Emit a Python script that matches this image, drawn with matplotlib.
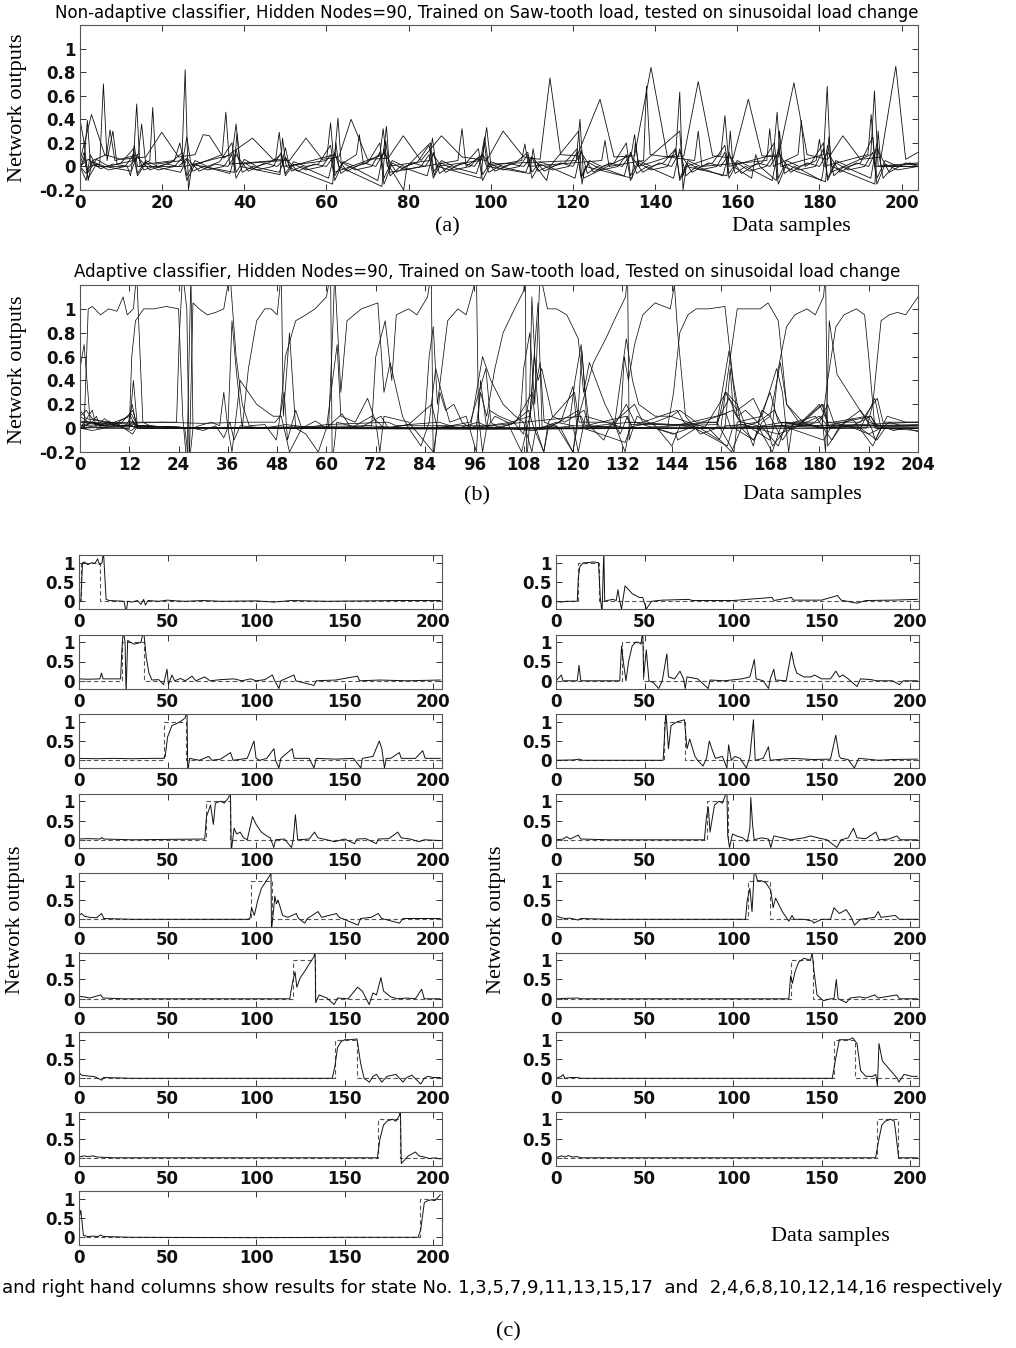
import matplotlib
matplotlib.use("Agg")
import matplotlib.pyplot as plt

plt.rcParams.update({
    "font.family": "DejaVu Sans", "font.size": 11,
    "figure.facecolor": "white", "axes.facecolor": "white",
})
W, H = 1016, 1348
SERIF = "Liberation Serif"
INK = "#111111"

# ---------------- panel (a): non-adaptive classifier outputs ----------------
A_TITLE = ("Non-adaptive classifier, Hidden Nodes=90, Trained on Saw-tooth load, "
           "tested on sinusoidal load change")
A_XTICKS = [0, 20, 40, 60, 80, 100, 120, 140, 160, 180, 200]
A_YTICKS = [-0.2, 0, 0.2, 0.4, 0.6, 0.8, 1]

A_BROAD = [(0, .05), (2.8, .44), (6, .1), (10, .06), (16, .08), (19.9, .29), (24, .08),
           (28, .1), (30, .27), (31.5, .26), (35, .07), (42, .24), (47, .06), (51, .05),
           (55, .24), (59, .06), (63, .08), (66, .40), (70, .06), (75, .07), (78.7, .26),
           (83, .05), (88, .26), (93, .08), (99, .05), (103, .30), (108, .08), (112, .06),
           (114.4, .75), (117, .10), (121, .09), (126.6, .57), (130, .08), (135, .09),
           (139, .84), (143, .08), (147, .09), (150.5, .72), (154, .09), (159, .07),
           (162.7, .57), (166, .09), (170, .08), (173.8, .71), (177, .10), (182, .06),
           (185.7, .26), (190, .06), (195, .08), (198.6, .85), (201, .06), (204, .12)]
A_SPIKES = [(0, 0), (1, .05), (1.8, .39), (2.6, 0), (4.8, .02), (5.7, .70), (6.6, .05),
            (8, .3), (9, .02), (13, .05), (13.8, .53), (14.6, 0), (17, .05), (17.7, .50),
            (18.5, .02), (24.8, .05), (25.6, .82), (26.4, -.2), (27.2, 0), (34.6, .1),
            (35.5, .46), (36.4, .02), (47.6, .05), (48.5, .29), (49.4, 0), (60, .05),
            (61, .37), (62, -.05), (73.8, .1), (74.6, .34), (75.4, -.05), (92, .05),
            (93, .32), (94, 0), (98, .1), (99, .33), (100, .02), (120.8, .05), (121.7, .40),
            (122.6, -.1), (134.2, .1), (135, .27), (136, 0), (145, .1), (146, .63),
            (146.8, -.2), (147.6, 0), (156, .1), (157, .43), (158, 0), (168.8, .1),
            (169.7, .46), (170.6, 0), (181, .1), (181.9, .68), (182.8, -.05), (192.5, .1),
            (193.4, .64), (194.3, 0), (204, .02)]
A_MEDIUM = [(0, .40), (1, .2), (2, -.12), (3, .05), (6.5, .1), (7.3, .31), (8.5, .05),
            (14.2, .1), (15, .36), (16, .02), (23, .05), (24.3, .2), (25.5, 0), (37, .1),
            (38, .36), (39, .02), (49.3, .05), (50, .16), (51, 0), (62, .1), (62.8, .41),
            (63.6, .02), (67.3, .1), (68, .27), (69, .02), (73, .1), (73.8, .32), (74.8, 0),
            (85, .05), (85.8, .24), (86.7, 0), (97.5, .05), (98.5, .25), (99.5, 0),
            (107.5, .05), (108.3, .19), (109.2, 0), (127, .05), (127.8, .22), (128.8, 0),
            (137.2, .05), (137.9, .68), (138.8, .1), (149.6, .05), (150.5, .30), (151.4, 0),
            (167.2, .05), (167.9, .32), (168.8, 0), (174.8, .1), (175.6, .39), (176.5, 0),
            (179.2, .05), (180, .23), (181, 0), (191.8, .1), (192.6, .44), (193.5, 0),
            (204, .03)]
A_DIPS = [(0, 0), (1.5, -.12), (2.5, .1), (4, 0), (11.5, 0), (12.3, -.08), (13.2, .18),
          (14, 0), (24.8, 0), (26, .25), (27, .02), (37.5, -.05), (38.2, .28), (39, 0),
          (48.7, -.07), (49.3, .24), (50.2, 0), (61.5, -.15), (62.3, .2), (63, 0),
          (73.5, -.17), (74.4, .22), (75.3, 0), (78.8, -.2), (79.6, 0), (85.3, .2),
          (86.2, -.08), (87, 0), (97.6, -.1), (98.4, .2), (99.2, 0), (109.5, -.06),
          (110.3, .15), (111, 0), (113.6, -.12), (114.4, 0), (121.4, .3), (122.2, -.15),
          (123, 0), (134.4, -.1), (135.2, .2), (136, 0), (146, .3), (146.8, -.08),
          (147.6, 0), (157.5, -.08), (158.3, .3), (159, 0), (163.5, -.1), (164.5, .1),
          (165.5, 0), (169.5, -.12), (170.3, .3), (171, 0), (181.5, -.13), (182.3, .25),
          (183, 0), (193.5, -.15), (194.3, .3), (195, 0), (204, 0)]
A_BAND1 = [(0, .02), (1, .12), (2, -.05), (4, .06), (7, 0), (10, .03), (13, .15), (14, -.06),
           (16, .05), (19, 0), (22, .03), (25, .12), (26, -.08), (28, .05), (31, 0), (34, .04),
           (37, .2), (38, -.05), (40, .06), (43, 0), (46, .03), (49, .1), (50, -.06), (52, .04),
           (55, 0), (58, .02), (61, .18), (62, -.08), (64, .04), (67, 0), (70, .03), (73, .2),
           (74, -.1), (76, .05), (79, 0), (82, .03), (85, .18), (86, -.05), (88, .05), (91, 0),
           (94, .03), (97, .15), (98, -.07), (100, .04), (103, 0), (106, .03), (109, .12),
           (110, -.05), (112, .04), (115, 0), (118, .03), (121, .15), (122, -.1), (124, .05),
           (127, 0), (130, .03), (133, .2), (134, -.08), (136, .05), (139, 0), (142, .03),
           (145, .15), (146, -.1), (148, .05), (151, 0), (154, .03), (157, .18), (158, -.06),
           (160, .05), (163, 0), (166, .03), (169, .2), (170, -.1), (172, .05), (175, 0),
           (178, .03), (181, .2), (182, -.1), (184, .05), (187, 0), (190, .03), (193, .25),
           (194, -.1), (196, .05), (199, 0), (202, .03), (204, .01)]
A_BAND2 = [(0, -.02), (1, .08), (2, -.1), (4, .02), (7, -.03), (11, 0), (13, .1), (14, -.08),
           (16, .03), (19, -.03), (23, 0), (25, .08), (26, -.12), (28, .02), (31, -.03),
           (35, 0), (37, .1), (38, -.1), (40, .03), (43, -.03), (47, 0), (49, .12), (50, -.08),
           (52, .02), (55, -.03), (59, 0), (61, .1), (62, -.12), (64, .03), (67, -.03), (71, 0),
           (73, .12), (74, -.15), (76, .03), (79, -.03), (83, 0), (85, .1), (86, -.1), (88, .03),
           (91, -.03), (95, 0), (97, .08), (98, -.12), (100, .02), (103, -.03), (107, 0),
           (109, .1), (110, -.1), (112, .02), (115, -.03), (119, 0), (121, .12), (122, -.08),
           (124, .03), (127, -.03), (131, 0), (133, .1), (134, -.12), (136, .03), (139, -.03),
           (143, 0), (145, .15), (146, -.12), (148, .03), (151, -.03), (155, 0), (157, .12),
           (158, -.1), (160, .03), (163, -.04), (167, 0), (169, .1), (170, -.15), (172, .02),
           (175, -.03), (179, 0), (181, .15), (182, -.12), (184, .03), (187, -.03), (191, 0),
           (193, .12), (194, -.15), (196, .02), (199, -.03), (204, 0)]
A_BAND3 = [(0, 0), (2, .06), (5, -.02), (8, .02), (12, 0), (14, .08), (17, -.03), (21, .02),
           (24, 0), (26, .07), (29, -.04), (33, .02), (36, 0), (38, .1), (41, -.04), (45, .03),
           (48, 0), (50, .07), (53, -.04), (57, .02), (60, 0), (62, .1), (65, -.04), (69, .03),
           (72, 0), (74, .12), (77, -.05), (81, .03), (84, 0), (86, .1), (89, -.05), (93, .03),
           (96, 0), (98, .1), (101, -.04), (105, .02), (108, 0), (110, .08), (113, -.04),
           (117, .03), (120, 0), (122, .12), (125, -.05), (129, .03), (132, 0), (134, .1),
           (137, -.05), (141, .03), (144, 0), (146, .12), (149, -.05), (153, .03), (156, 0),
           (158, .1), (161, -.06), (165, .03), (168, 0), (170, .12), (173, -.05), (177, .03),
           (180, 0), (182, .12), (185, -.05), (189, .03), (192, 0), (194, .15), (197, -.05),
           (201, .03), (204, 0)]
A_BAND4 = [(0, 0), (1.5, -.06), (3, .04), (6, 0), (12.5, -.04), (14, .1), (15.5, -.03), (18, 0),
           (24.5, -.05), (26, .06), (27.5, -.04), (30, 0), (36.5, -.06), (38, .14), (39.5, -.05),
           (42, 0), (48.5, -.05), (50, .08), (51.5, -.04), (54, 0), (60.5, -.1), (62, .12),
           (63.5, -.06), (66, 0), (72.5, -.12), (74, .15), (75.5, -.08), (78, 0), (84.5, -.08),
           (86, .12), (87.5, -.06), (90, 0), (96.5, -.06), (98, .1), (99.5, -.05), (102, 0),
           (108.5, -.05), (110, .08), (111.5, -.04), (114, 0), (120.5, -.1), (122, .14),
           (123.5, -.06), (126, 0), (132.5, -.08), (134, .12), (135.5, -.06), (138, 0),
           (144.5, -.1), (146, .15), (147.5, -.08), (150, 0), (156.5, -.08), (158, .12),
           (159.5, -.06), (162, 0), (168.5, -.12), (170, .15), (171.5, -.06), (174, 0),
           (180.5, -.12), (182, .18), (183.5, -.08), (186, 0), (192.5, -.1), (194, .2),
           (195.5, -.1), (198, 0), (204, 0)]
A_TRACES = [A_BROAD, A_SPIKES, A_MEDIUM, A_DIPS, A_BAND1, A_BAND2, A_BAND3, A_BAND4]

# ---------------- panels (b) and (c): adaptive classifier, 17 state outputs ----------------
B_TITLE = ("Adaptive classifier, Hidden Nodes=90, Trained on Saw-tooth load, "
           "Tested on sinusoidal load change")
B_XTICKS = list(range(0, 205, 12))
C_XTICKS = [0, 50, 100, 150, 200]
C_YTICKS = [0, 0.5, 1]

OUT_1 = [(0, 0), (1, 0), (2, 1.0), (3, 1.02), (5, .95), (7, 1.0), (9, .98), (10.5, 1.1),
         (11.5, .95), (13, 1.0), (13.8, 1.3), (15.3, .05), (17, .02), (25.5, 0), (26.6, -.3),
         (27.5, 0), (30, -.02), (33, .02), (35, -.08), (36.5, .05), (37.5, -.1), (39, .02),
         (45, 0), (50, .03), (55, .01), (60, 0), (70, .02), (80, 0), (100, .01), (110, -.02),
         (120, .02), (140, 0), (160, .01), (180, .02), (204, .02)]
OUT_2 = [(0, 0), (3, -.02), (6, 0), (12, 0), (12.6, .6), (13.5, .9), (15.5, 1.0), (18, 1.0),
         (21, 1.02), (24, 1.0), (25, .1), (26, -.3), (27, 1.3), (27.5, 0), (29, .02), (32, .05),
         (34, .02), (35, .3), (36, 0), (37, -.2), (38, .1), (39, .4), (41, .3), (43, .2),
         (47, .1), (49, .1), (51, -.2), (54, 0), (60, .03), (75, .05), (77, .02), (100, .02),
         (122, .1), (123, .02), (133, .1), (134, .03), (150, .03), (159, .15), (161, .03),
         (170, -.05), (175, .02), (190, .03), (204, .05)]
OUT_3 = [(0, .05), (5, .04), (11.8, .05), (12.7, .2), (13.6, .05), (23.5, .05), (24.2, .8),
         (25, 1.3), (26, 1.0), (26.6, -.3), (27.5, 1.05), (29, 1.0), (31, .95), (33, .97),
         (35, 1.0), (36.5, 1.3), (38, .6), (39.5, .2), (41.2, .02), (45, .03), (47.8, -.1),
         (48.7, .1), (49.7, .3), (50.5, -.1), (52.5, .15), (54, 0), (57.3, .06), (60, 0),
         (63.8, .12), (66, 0), (71, .1), (74, 0), (80, .03), (87.4, .05), (92, 0), (96.9, .05),
         (100, 0), (105, .03), (109.2, .15), (110.5, 0), (112.9, -.2), (114, 0), (121.4, .15),
         (122.5, 0), (132.7, -.12), (134, 0), (145, .02), (157.3, .12), (158.5, 0), (170, .02),
         (185, 0), (204, .02)]
OUT_4 = [(0, 0), (3, .15), (4, 0), (12, 0), (13, .4), (14, 0), (30, 0), (36, 0), (37, .9),
         (38, .5), (39.5, 0), (41, .5), (43, .9), (45, 1.0), (46.5, 1.0), (48, .95), (49, 1.3),
         (49.5, .1), (51, .8), (52.5, 0), (55, -.05), (58, -.2), (60, 0), (62.6, .7),
         (63.5, .1), (67, .05), (70, .25), (72, .05), (73, -.2), (74, .1), (80, .05),
         (86, -.2), (87, .02), (95, 0), (105, .05), (109.5, .1), (112, .55), (113, .05),
         (117, 0), (120, -.2), (121, .05), (123, .3), (124, .02), (130, 0), (133, .75),
         (134.5, .4), (136, .2), (140, .1), (144, .1), (146, .15), (150, .05), (155, .05),
         (158, .25), (160, .1), (162, .15), (165, .05), (170, -.15), (172, .05), (178, .03),
         (181, 0), (190, 0), (194, -.1), (196, 0), (204, 0)]
OUT_5 = [(0, .05), (10, .04), (20, .05), (30, .04), (40, .05), (47.5, .05), (48.7, .1),
         (50, .6), (52.5, .9), (55, .95), (57.2, 1.0), (60, 1.1), (61, 1.3), (61.4, -.3),
         (62.5, .05), (68, 0), (73.3, .1), (75, 0), (80, .03), (85.6, .2), (87, 0), (95, .05),
         (98.8, .5), (100, .05), (102, 0), (106, .05), (110.1, .3), (111, 0), (112.9, -.2),
         (114, .05), (120.4, .3), (121.5, .05), (130, .05), (132.7, -.2), (134, .05),
         (145, .03), (155, .05), (159.2, -.2), (160, .05), (166, .1), (169.6, .5), (171, .3),
         (172.5, -.2), (173.5, .05), (176, .05), (180.9, .2), (182, .05), (190, .05),
         (194.1, .25), (195.5, .05), (204, .05)]
OUT_6 = [(0, 0), (10, .01), (13, .03), (15, 0), (40, 0), (60.5, 0), (61.5, .8), (62, 1.3),
         (63.5, .3), (65, .9), (68.5, 1.0), (72.5, 1.05), (74, .3), (75.5, .55), (78.5, .1),
         (80, 0), (83, -.15), (85, .05), (86.6, .5), (88, .3), (90, .05), (94, .1),
         (96.5, -.2), (97.5, .4), (99, 0), (101, .1), (104, .05), (107.5, -.2), (109.5, .1),
         (111.5, 1.05), (112.5, 0), (117, .05), (120, .35), (121, 0), (128, .03), (134, .05),
         (145, .02), (155, .03), (158, .65), (160, .1), (161, .05), (165, .02), (168.5, -.2),
         (171, .05), (178, .02), (182, 0), (190, .02), (204, .03)]
OUT_7 = [(0, .02), (5, .03), (12, .02), (12.8, .06), (14, .02), (30, 0), (50, .01), (71, .02),
         (72, .6), (74.3, .9), (75.9, .4), (77, .95), (80, 1.0), (82, .95), (84.6, 1.1),
         (85.5, 1.3), (86, -.3), (87.6, .3), (89, .15), (91, .2), (93, .05), (95, 0), (98, .6),
         (100, .4), (103, .2), (106, .1), (108, .05), (110, -.2), (111, 0), (116, .02),
         (120, -.2), (121, 0), (122.2, .65), (123.5, 0), (130, .02), (133, .2), (135, .05),
         (140, 0), (144.3, -.05), (150, .02), (155.6, -.1), (157, .02), (162, .03),
         (167.9, -.1), (169, .02), (175, .03), (180, .2), (182, .05), (187, .02), (192, -.05),
         (195, 0), (204, -.02)]
OUT_8 = [(0, 0), (4, .02), (6, .08), (8, .02), (12.5, .12), (14, .02), (30, 0), (83.8, 0),
         (85, .6), (86, .85), (87, .2), (89.5, .9), (92, 1.0), (94, .95), (96, 1.2), (96.5, 1.3),
         (97, .1), (98, -.2), (99.7, .15), (102, .1), (105.5, .05), (108, -.05), (109.5, .3),
         (110, 1.1), (111, .4), (111.9, 0), (116, .05), (120, .02), (121.3, -.2), (123, .1),
         (128, .05), (132.5, 0), (140, .05), (143.7, .1), (148, .05), (153, 0), (158.6, -.2),
         (161, 0), (165, .05), (168, .3), (170, .05), (175, .03), (180.6, .2), (182.5, 0),
         (188, .02), (192.5, .1), (194.5, 0), (204, 0)]
OUT_9 = [(0, .1), (1.5, .15), (3, .08), (6, .05), (10, .04), (12.8, .15), (14, .02), (30, 0),
         (60, 0), (95, 0), (96.5, .02), (97.5, .3), (99, .1), (101, .5), (103, .8),
         (105.8, 1.0), (108, 1.15), (108.4, 1.3), (108.7, -.3), (110, .3), (110.6, .6),
         (111.5, .4), (112.4, .5), (115, .1), (118, .05), (122.7, .15), (124, .02),
         (127.5, -.1), (129, .02), (135, .2), (137, .05), (145.4, .15), (147, .05),
         (157.6, -.15), (159, .02), (165, .05), (169, .15), (171, .02), (181, -.1), (183, .02),
         (195, .02), (204, .02)]
OUT_10 = [(0, .1), (2, .05), (5, .02), (8, .03), (12.5, -.02), (14, .02), (30, 0), (107, 0),
          (108, .5), (109.5, .8), (110.7, .2), (112, 1.3), (113.8, 1.0), (116, 1.0),
          (118.5, .95), (121.3, .75), (122.6, .3), (124, .55), (127.8, .2), (131.5, -.05),
          (133.3, .1), (134.5, 0), (140, 0), (145, -.05), (145.5, -.1), (150, 0), (155, 0),
          (157, .3), (160, .15), (163.9, .25), (166.7, .05), (168.6, -.15), (172, 0), (180, .05),
          (182, .2), (183.5, .05), (191.6, .1), (194, 0), (204, 0)]
OUT_11 = [(0, .06), (3, .05), (6, .02), (12.3, .1), (13.5, .02), (25, 0), (60, 0), (119, 0),
          (120.5, .4), (122, .7), (123, .3), (125, .55), (128, .75), (130, .9), (132.8, 1.1),
          (133.3, 1.3), (133.7, -.1), (135.6, .1), (140, .02), (144.1, -.15), (146, .02),
          (152, 0), (157.3, .3), (160, .2), (163.9, -.15), (166, .15), (168, .1), (170.5, .55),
          (172, .2), (176, .05), (180, 0), (185, .02), (190, 0), (193.5, .25), (195, 0),
          (204, 0)]
OUT_12 = [(0, 0), (5, .01), (12.5, .02), (14, 0), (60, 0), (131.5, 0), (132.5, .6),
          (133.5, .4), (135, .7), (137, .95), (140, 1.05), (143.7, 1.0), (144.7, 1.2),
          (145.5, .8), (147.4, .1), (151, -.05), (155, 0), (157, 0), (158.3, .5), (159.3, 0),
          (164, -.1), (166, .02), (171.5, .05), (175, .02), (180, .1), (182, .02), (192.5, .1),
          (194, 0), (204, 0)]
OUT_13 = [(0, .15), (1.5, .08), (5, .06), (9, .04), (12.8, -.05), (14, .02), (30, 0), (80, 0),
          (143, 0), (144.5, .3), (146, .8), (148, .95), (150, 1.0), (153, 1.0), (157, 1.02),
          (159, .4), (161, 0), (164, -.1), (166, .05), (168, .1), (171, -.1), (174, .05),
          (179, .1), (183, -.1), (185, .02), (188, .08), (193, -.15), (195, 0), (197, .05),
          (200, .02), (204, .02)]
OUT_14 = [(0, 0), (3, .05), (4, .1), (5, 0), (8, .02), (12, .02), (14, 0), (60, 0), (156, 0),
          (157.5, .4), (160, 1.0), (163, 1.0), (165.6, 1.0), (167.5, 1.05), (170, .9),
          (172, .2), (175, .05), (178.8, .05), (180.6, .1), (181.5, -.2), (182.4, .9),
          (184.3, .45), (188, .25), (192.7, 0), (193.6, -.1), (196.5, .1), (201, .05),
          (204, .05)]
OUT_15 = [(0, .02), (3, .05), (5, .03), (8, .05), (10, .02), (20, 0), (80, 0), (168.5, 0),
          (170, .5), (172, .85), (174, .95), (177, 1.0), (179, .95), (181, 1.1), (181.5, 1.3),
          (182, -.15), (184, -.05), (186, .05), (188, .1), (190, .15), (192, .05), (195, .02),
          (198, -.02), (201, 0), (204, -.03)]
OUT_16 = [(0, 0), (3, .05), (5, .02), (7, .06), (9, .02), (12, .03), (14, 0), (60, 0),
          (180.5, 0), (182, .4), (184, .85), (186, .95), (189, 1.0), (191, .95), (192, .6),
          (193.5, 0), (195, 0), (204, 0)]
OUT_17 = [(0, .5), (1, .7), (2.5, .05), (5, .02), (8, .03), (11, .02), (12, .06), (14, .02),
          (30, 0), (100, -.01), (150, 0), (191.5, 0), (193, .2), (195, .9), (197, .95),
          (199, .97), (201, .95), (203, 1.05), (204, 1.1)]

LEFT_OUTS = [OUT_1, OUT_3, OUT_5, OUT_7, OUT_9, OUT_11, OUT_13, OUT_15, OUT_17]
RIGHT_OUTS = [OUT_2, OUT_4, OUT_6, OUT_8, OUT_10, OUT_12, OUT_14, OUT_16]
# desired (target) output pulse of each state: (switch on, switch off) sample
LEFT_TARGETS = [(1, 12), (24.5, 36.5), (48, 60.5), (72, 85), (97, 109), (121, 133),
                (144.5, 157), (169, 181), (192.5, 205)]
RIGHT_TARGETS = [(12.6, 24.5), (37, 49), (61, 73), (85, 97), (108.5, 121), (132.5, 145),
                 (157, 169), (181, 193)]

CAPTION = ("and right hand columns show results for state No. 1,3,5,7,9,11,13,15,17  "
           "and  2,4,6,8,10,12,14,16 respectively")


def px_box(left, top, right, bottom):
    return [left / W, 1 - bottom / H, (right - left) / W, (bottom - top) / H]


def style(ax, xlim, ylim, xticks, yticks):
    ax.set_xlim(*xlim)
    ax.set_ylim(*ylim)
    ax.set_xticks(xticks, [f"{v:g}" for v in xticks])
    ax.set_yticks(yticks, [f"{v:g}" for v in yticks])
    ax.tick_params(direction="in", top=True, right=True, length=4, width=0.6,
                   labelsize=12, pad=3, colors=INK)
    for lab in ax.get_xticklabels() + ax.get_yticklabels():
        lab.set_fontweight("bold")
    for s in ax.spines.values():
        s.set_linewidth(0.8)
        s.set_color("#555555")


def trace(ax, pts, **kw):
    xs, ys = zip(*pts)
    ax.plot(xs, ys, color=INK, lw=kw.pop("lw", 0.6), **kw)


fig = plt.figure(figsize=(W / 100, H / 100), dpi=100)

# (a)
ax = fig.add_axes(px_box(80, 25, 918, 190))
for t in A_TRACES:
    trace(ax, t)
style(ax, (0, 204), (-0.2, 1.2), A_XTICKS, A_YTICKS)
fig.text(487 / W, 1 - 13 / H, A_TITLE, ha="center", va="center", fontsize=12)
fig.text(18 / W, 1 - 108 / H, "Network outputs", rotation=90, ha="center", va="center",
         family=SERIF, fontsize=16)
fig.text(447 / W, 1 - 227 / H, "(a)", ha="center", va="center", family=SERIF, fontsize=16)
fig.text(791 / W, 1 - 227 / H, "Data samples", ha="center", va="center", family=SERIF,
         fontsize=16)

# (b)
ax = fig.add_axes(px_box(80, 285, 918, 452))
for t in LEFT_OUTS + RIGHT_OUTS:
    trace(ax, t, lw=0.55)
style(ax, (0, 204), (-0.2, 1.2), B_XTICKS, A_YTICKS)
fig.text(487 / W, 1 - 272 / H, B_TITLE, ha="center", va="center", fontsize=12)
fig.text(18 / W, 1 - 370 / H, "Network outputs", rotation=90, ha="center", va="center",
         family=SERIF, fontsize=16)
fig.text(477 / W, 1 - 496 / H, "(b)", ha="center", va="center", family=SERIF, fontsize=16)
fig.text(802 / W, 1 - 495 / H, "Data samples", ha="center", va="center", family=SERIF,
         fontsize=16)

# (c)
for col_left, outs, targets in [(79, LEFT_OUTS, LEFT_TARGETS),
                                (556, RIGHT_OUTS, RIGHT_TARGETS)]:
    for i, (pts, (on, off)) in enumerate(zip(outs, targets)):
        top = 555 + 79.5 * i
        ax = fig.add_axes(px_box(col_left, top, col_left + 363, top + 54))
        ax.plot([0, on, on, off, off, 205], [0, 0, 1, 1, 0, 0], color="#555555",
                lw=0.8, ls=(0, (4, 2.5)))
        trace(ax, pts, lw=0.7)
        style(ax, (0, 205), (-0.2, 1.2), C_XTICKS, C_YTICKS)

fig.text(16 / W, 1 - 920 / H, "Network outputs", rotation=90, ha="center", va="center",
         family=SERIF, fontsize=16)
fig.text(497 / W, 1 - 920 / H, "Network outputs", rotation=90, ha="center", va="center",
         family=SERIF, fontsize=16)
fig.text(830 / W, 1 - 1236 / H, "Data samples", ha="center", va="center", family=SERIF,
         fontsize=16)
fig.text(2 / W, 1 - 1288 / H, CAPTION, ha="left", va="center", fontsize=13)
fig.text(508 / W, 1 - 1332 / H, "(c)", ha="center", va="center", family=SERIF, fontsize=16)

fig.savefig("out.png", dpi=100)
